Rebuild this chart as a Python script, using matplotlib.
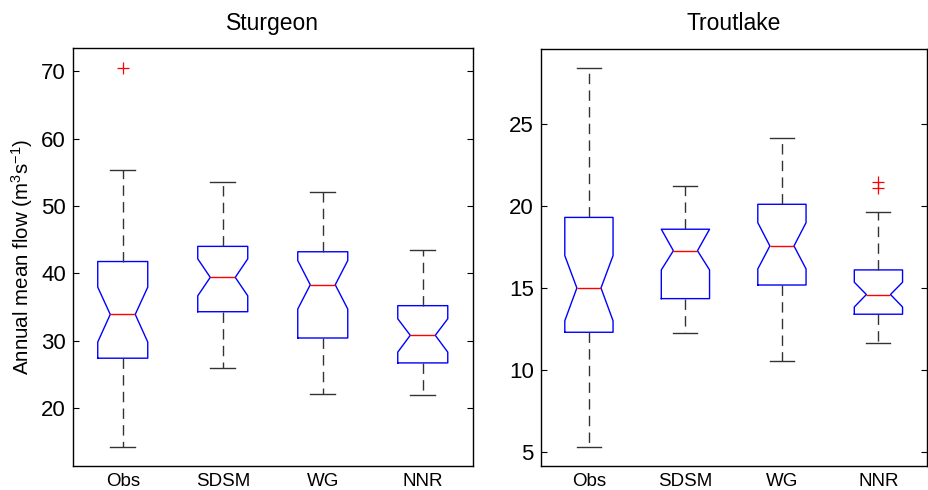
import numpy as np
import matplotlib
matplotlib.use('Agg')
import matplotlib.pyplot as plt

plt.rcParams['font.family'] = ['Liberation Sans', 'DejaVu Sans']
plt.rcParams['mathtext.fontset'] = 'custom'
plt.rcParams['mathtext.rm'] = 'Liberation Sans'
plt.rcParams['mathtext.it'] = 'Liberation Sans'
plt.rcParams['lines.scale_dashes'] = False

# group names
groups = ['Obs', 'SDSM', 'WG', 'NNR']

# Sturgeon: box stats
stu_whislo = [14.2, 25.9, 22.1, 21.9]
stu_q1     = [27.4, 34.3, 30.4, 26.7]
stu_cilo   = [29.8, 36.66, 34.7, 28.3]
stu_med    = [33.9, 39.4, 38.3, 30.8]
stu_cihi   = [37.95, 42.15, 41.9, 33.25]
stu_q3     = [41.75, 44.0, 43.2, 35.2]
stu_whishi = [55.4, 53.6, 52.0, 43.5]
stu_fliers = [[70.5], [], [], []]

# Troutlake
tro_whislo = [5.29, 12.26, 10.55, 11.63]
tro_q1     = [12.3, 14.35, 15.18, 13.4]
tro_cilo   = [13.0, 16.1, 16.16, 13.84]
tro_med    = [15.0, 17.27, 17.56, 14.6]
tro_cihi   = [16.97, 18.58, 18.98, 15.35]
tro_q3     = [19.3, 18.58, 20.1, 16.1]
tro_whishi = [28.4, 21.2, 24.15, 19.6]
tro_fliers = [[], [], [], [21.12, 21.48]]


def make_stats(whislo, q1, cilo, med, cihi, q3, whishi, fliers):
    stats = []
    for i in range(len(groups)):
        stats.append(dict(label=groups[i], whislo=whislo[i], q1=q1[i],
                          cilo=cilo[i], med=med[i], cihi=cihi[i], q3=q3[i],
                          whishi=whishi[i], fliers=fliers[i]))
    return stats


def draw(ax, stats, title, ylim, yticks):
    ax.bxp(stats, widths=0.5, shownotches=True, showfliers=True,
           boxprops=dict(color='#0000ff', linewidth=1.0),
           medianprops=dict(color='#ff0000', linewidth=1.0),
           whiskerprops=dict(color='#333333', linewidth=1.0,
                             linestyle=(0, (7.5, 4.5))),
           capprops=dict(color='#333333', linewidth=1.0),
           flierprops=dict(marker='+', markeredgecolor='#ff0000',
                           markersize=8, markeredgewidth=0.9, linestyle='none'))
    ax.set_xlim(0.5, 4.5)
    ax.set_ylim(*ylim)
    ax.set_yticks(yticks)
    ax.set_title(title, fontsize=16.5, pad=13.5)
    ax.tick_params(axis='y', direction='in', length=4, width=0.8,
                   right=True, labelsize=16, pad=5)
    ax.tick_params(axis='x', length=0, labelsize=13.5, pad=5)
    for s in ax.spines.values():
        s.set_linewidth(1.0)


fig = plt.figure(figsize=(9.29, 4.90), dpi=100)
ax1 = fig.add_axes([0.0783, 0.049, 0.4306, 0.8524])
ax2 = fig.add_axes([0.582, 0.049, 0.4155, 0.8512])

draw(ax1, make_stats(stu_whislo, stu_q1, stu_cilo, stu_med, stu_cihi,
                     stu_q3, stu_whishi, stu_fliers),
     'Sturgeon', (11.4, 73.4), [20, 30, 40, 50, 60, 70])
draw(ax2, make_stats(tro_whislo, tro_q1, tro_cilo, tro_med, tro_cihi,
                     tro_q3, tro_whishi, tro_fliers),
     'Troutlake', (4.15, 29.57), [5, 10, 15, 20, 25])

ax1.set_ylabel('Annual mean flow (m$^3$s$^{-1}$)', fontsize=14.8, labelpad=4)

plt.savefig('out.png', dpi=100)
